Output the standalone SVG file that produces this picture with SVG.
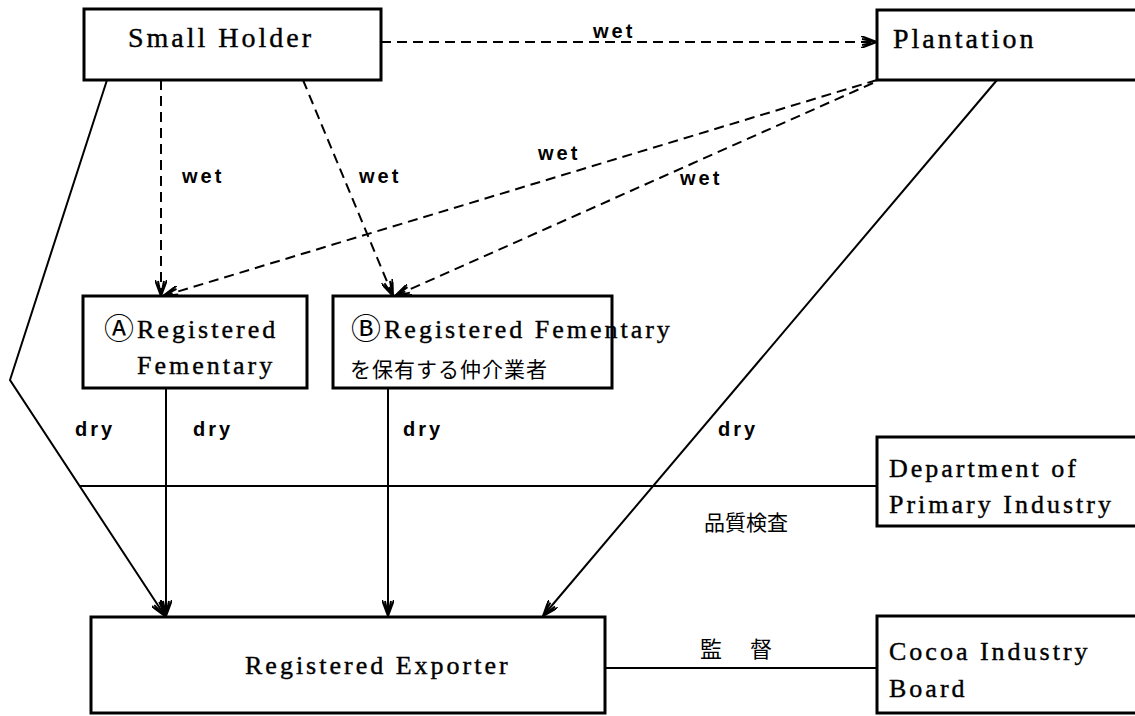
<svg xmlns="http://www.w3.org/2000/svg" width="1135" height="716" viewBox="0 0 1135 716">
  <style>
    .box { fill: #fff; stroke: #000; stroke-width: 3; }
    .nl { font-family: "Liberation Serif", "Noto Sans CJK JP", serif; font-size: 26px; letter-spacing: 3px; fill: #000; stroke: #000; stroke-width: 0.4px; }
    .big { font-size: 28px; letter-spacing: 3px; }
    .circ { font-family: "Noto Sans CJK JP", "DejaVu Sans", sans-serif; font-size: 30px; fill: #000; }
    .jp { font-family: "Noto Sans CJK JP", sans-serif; font-size: 21px; letter-spacing: 1px; fill: #000; }
    .el { font-family: "Liberation Sans", "DejaVu Sans", sans-serif; font-size: 20px; font-weight: bold; letter-spacing: 3px; fill: #000; }
    .solid { fill: none; stroke: #000; stroke-width: 2; }
    .dash { fill: none; stroke: #000; stroke-width: 2; stroke-dasharray: 10 6; }
  </style>
  <defs>
    <marker id="arr" viewBox="0 0 16 12" refX="16" refY="6" markerWidth="16" markerHeight="12" markerUnits="userSpaceOnUse" orient="auto">
      <path d="M0,0 L16,6 L0,12 M1,3 L16,6 L1,9" fill="none" stroke="#000" stroke-width="2"/>
    </marker>
  </defs>

  <rect width="1135" height="716" fill="#fff"/>

  <g id="connectors">
    <path class="dash" d="M381,42 L877,42" marker-end="url(#arr)"/>
    <path class="dash" d="M161,80 L161,296" marker-end="url(#arr)"/>
    <path class="dash" d="M303,80 L393,296" marker-end="url(#arr)"/>
    <path class="dash" d="M877,80 L163,296" marker-end="url(#arr)"/>
    <path class="dash" d="M873,83 L395,296" marker-end="url(#arr)"/>
    <path class="solid" d="M107,80 L10,380 L165,616" marker-end="url(#arr)"/>
    <path class="solid" d="M166,388 L166,616" marker-end="url(#arr)"/>
    <path class="solid" d="M388,388 L388,616" marker-end="url(#arr)"/>
    <path class="solid" d="M997,80 L543,616" marker-end="url(#arr)"/>
    <path class="solid" d="M80,486 L877,486"/>
    <path class="solid" d="M605,668 L877,668"/>
    <text class="el" x="593" y="38">wet</text>
    <text class="el" x="182" y="183">wet</text>
    <text class="el" x="359" y="183">wet</text>
    <text class="el" x="538" y="160">wet</text>
    <text class="el" x="680" y="185">wet</text>
    <text class="el" x="75" y="436">dry</text>
    <text class="el" x="193" y="436">dry</text>
    <text class="el" x="403" y="436">dry</text>
    <text class="el" x="718" y="436">dry</text>
    <text class="jp" x="704" y="530" style="letter-spacing:0">品質検査</text>
    <text class="jp" x="700" y="657" style="font-size:22px;letter-spacing:3px">監　督</text>
  </g>

  <g id="small-holder">
    <rect class="box" x="84" y="9" width="297" height="71"/>
    <text class="nl big" x="128" y="47">Small Holder</text>
  </g>

  <g id="plantation">
    <rect class="box" x="877" y="10" width="300" height="70"/>
    <text class="nl big" x="893" y="48">Plantation</text>
  </g>

  <g id="fermentary-a">
    <rect class="box" x="83" y="296" width="224" height="92"/>
    <text class="circ" x="104" y="339">Ⓐ</text>
    <text class="nl" x="137" y="338">Registered</text>
    <text class="nl" x="137" y="374">Fementary</text>
  </g>

  <g id="fermentary-b">
    <rect class="box" x="333" y="296" width="279" height="92"/>
    <text class="circ" x="351" y="339">Ⓑ</text>
    <text class="nl" x="384" y="338">Registered Fementary</text>
    <text class="jp" x="350" y="377">を保有する仲介業者</text>
  </g>

  <g id="exporter">
    <rect class="box" x="91" y="617" width="514" height="96"/>
    <text class="nl" x="245" y="674">Registered Exporter</text>
  </g>

  <g id="dpi">
    <rect class="box" x="877" y="437" width="300" height="89"/>
    <text class="nl" x="889" y="477">Department of</text>
    <text class="nl" x="889" y="513">Primary Industry</text>
  </g>

  <g id="cib">
    <rect class="box" x="877" y="616" width="300" height="97"/>
    <text class="nl" x="889" y="660">Cocoa Industry</text>
    <text class="nl" x="889" y="697">Board</text>
  </g>
</svg>
